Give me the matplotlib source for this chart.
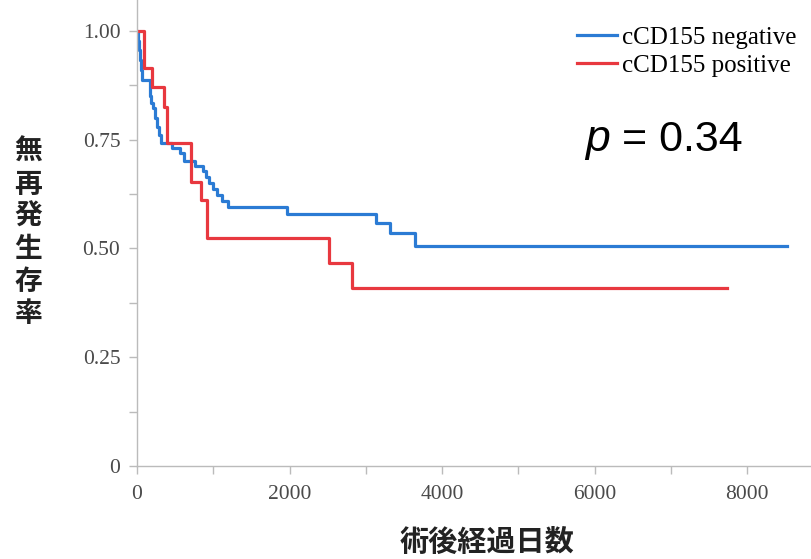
import matplotlib
matplotlib.use('Agg')
import matplotlib.pyplot as plt
from matplotlib.ticker import MultipleLocator, FixedLocator

# step curves (days after surgery, survival after each drop)
neg_days = [0, 13, 26, 39, 52, 66, 170, 190, 210, 236, 262, 289, 315,
            459, 564, 616, 761, 866, 905, 944, 997, 1049, 1115, 1193,
            1967, 3134, 3318, 3646, 8525]
neg_surv = [1.0, 0.977, 0.955, 0.932, 0.909, 0.886, 0.85, 0.835, 0.823,
            0.80, 0.78, 0.76, 0.742, 0.731, 0.720, 0.701, 0.690, 0.678,
            0.664, 0.650, 0.636, 0.623, 0.609, 0.595, 0.579, 0.559, 0.536,
            0.506, 0.506]

pos_days = [0, 92, 197, 354, 393, 708, 839, 918, 2518, 2820, 7738]
pos_surv = [1.0, 0.915, 0.871, 0.825, 0.742, 0.653, 0.611, 0.524, 0.467,
            0.409, 0.409]

labels = ['cCD155 negative', 'cCD155 positive']
xticks = [0, 2000, 4000, 6000, 8000]
yticks = [0, 0.25, 0.5, 0.75, 1.0]
yticklabels = ['0', '0.25', '0.50', '0.75', '1.00']

blue = '#2b7bd4'
red = '#e8383f'
grey = '#bbbbbb'
tick_font = 'Liberation Serif'
cjk = ['Noto Sans CJK JP', 'DejaVu Sans']

fig = plt.figure(figsize=(8.12, 5.59), dpi=100)
ax = fig.add_axes([137/812, 93/559, 675/812, 466/559])

ax.step(neg_days, neg_surv, where='post', color=blue, lw=2.3, label=labels[0])
ax.step(pos_days, pos_surv, where='post', color=red, lw=2.3, label=labels[1])

ax.set_xlim(0, 8852)
ax.set_ylim(0, 1.071)

ax.xaxis.set_major_locator(FixedLocator(xticks))
ax.xaxis.set_minor_locator(MultipleLocator(1000))
ax.yaxis.set_major_locator(FixedLocator(yticks))
ax.yaxis.set_minor_locator(MultipleLocator(0.125))
ax.set_yticklabels(yticklabels)

for s in ['top', 'right']:
    ax.spines[s].set_visible(False)
for s in ['left', 'bottom']:
    ax.spines[s].set_color(grey)
    ax.spines[s].set_linewidth(1.0)

ax.tick_params(which='both', length=6, width=1, color=grey,
               labelcolor='#4a4a4a', labelsize=15.5)
ax.tick_params(axis='y', pad=6)
ax.tick_params(axis='x', pad=8)
for lab in ax.get_xticklabels() + ax.get_yticklabels():
    lab.set_family(tick_font)

leg = ax.legend(loc='upper right', bbox_to_anchor=(1.0, 0.975), frameon=False,
                prop={'family': tick_font, 'size': 18}, handlelength=1.6,
                handletextpad=0.2, labelspacing=0.2, borderaxespad=0.2)

ax.text(0.664, 0.70, 'p', transform=ax.transAxes, fontsize=32,
        family='Liberation Sans', style='italic', ha='left', va='center')
ax.text(0.719, 0.70, '= 0.34', transform=ax.transAxes, fontsize=31,
        family='Liberation Sans', ha='left', va='center')

fig.text(0.035, 0.583, '\n'.join('無再発生存率'), family=cjk, fontsize=20,
         fontweight='bold', ha='center', va='center', linespacing=1.2,
         color='#222222')
fig.text(0.600, 0.030, '術後経過日数', family=cjk, fontsize=21,
         fontweight='bold', ha='center', va='center', color='#222222')

fig.savefig('out.png', dpi=100)
